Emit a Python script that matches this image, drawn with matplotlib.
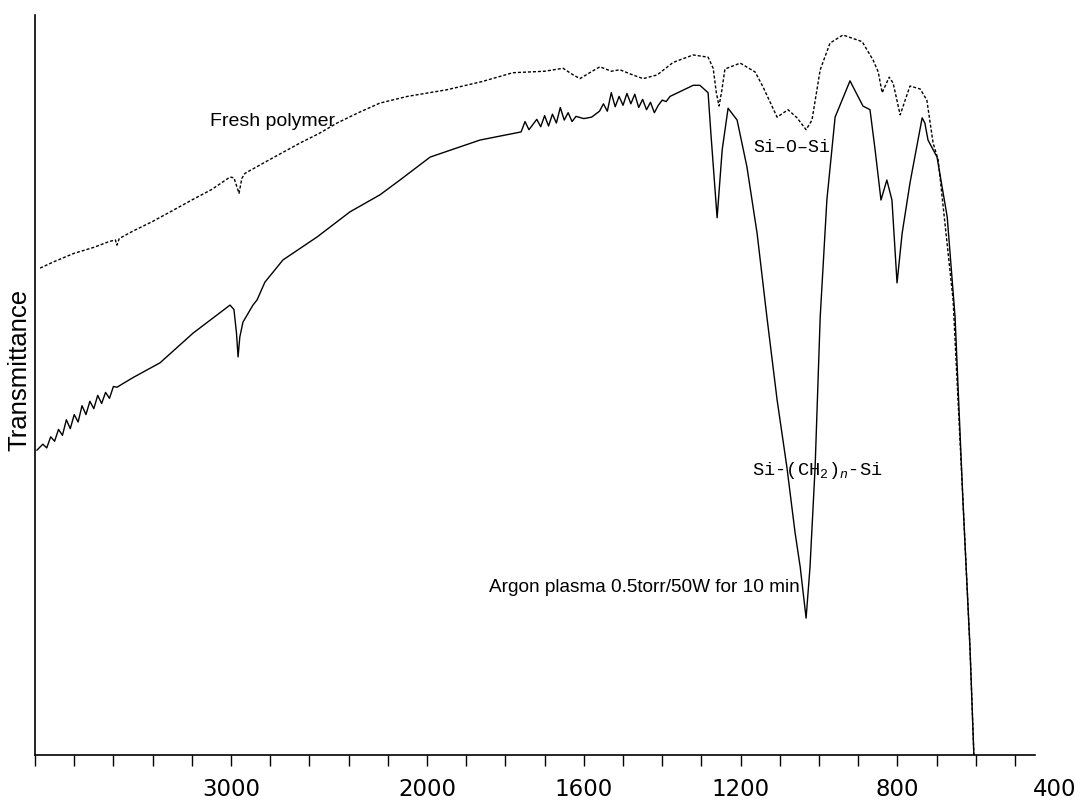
import numpy as np
import matplotlib
matplotlib.use("Agg")
import matplotlib.pyplot as plt

# ---------------- data ----------------
fresh_wn = [3974, 3900, 3800, 3700, 3620, 3590, 3582, 3570, 3500, 3400, 3296, 3200, 3100,
            3005, 2985, 2959, 2945, 2929, 2800, 2648, 2550, 2459, 2350, 2240, 2100,
            1949, 1860, 1781, 1700, 1653, 1630, 1610, 1585, 1559, 1530, 1508, 1480,
            1449, 1413, 1372, 1321, 1283, 1270, 1262, 1255, 1248, 1240, 1201, 1163,
            1143, 1107, 1079, 1056, 1033, 1018, 997, 972, 939, 890, 862, 849, 839,
            821, 811, 793, 768, 742, 725, 709, 696, 658, 633, 615, 605]
fresh_T = [65.8, 66.7, 67.8, 68.6, 69.4, 69.6, 68.9, 69.8, 70.8, 72.1, 73.6, 75.0, 76.4,
           78.1, 78.0, 75.9, 77.9, 78.6, 80.5, 82.7, 84.0, 85.4, 86.8, 88.1, 89.0,
           89.9, 91.0, 92.2, 92.4, 92.8, 92.0, 91.4, 92.2, 93.0, 92.4, 92.6, 92.0,
           91.4, 91.9, 93.6, 94.6, 94.3, 92.8, 89.5, 87.7, 89.8, 92.7, 93.5, 92.3,
           90.3, 86.2, 87.2, 86.1, 84.5, 85.8, 92.6, 96.2, 97.3, 96.4, 93.9, 92.3, 89.5,
           91.6, 90.8, 86.5, 90.4, 90.0, 88.5, 82.7, 80.4, 61.5, 34.5, 14.6, 0.0]

argon_wn = [3990, 3960, 3940, 3920, 3900, 3880, 3860, 3840, 3820, 3800, 3780, 3760,
            3740, 3720, 3700, 3680, 3660, 3640, 3620, 3600, 3582, 3500, 3362, 3194,
            3005, 2985, 2972, 2964, 2955, 2939, 2888, 2867, 2827, 2735, 2561, 2393,
            2240, 2138, 1992, 1865, 1760, 1750, 1740, 1720, 1710, 1700, 1690, 1680,
            1670, 1660, 1650, 1640, 1630, 1620, 1600, 1580, 1560, 1550, 1540, 1530,
            1520, 1510, 1500, 1490, 1480, 1470, 1460, 1450, 1440, 1430, 1420, 1410,
            1400, 1390, 1380, 1321, 1304, 1283, 1276, 1260, 1247, 1232, 1209, 1184,
            1158, 1133, 1107, 1082, 1061, 1048, 1033, 1023, 1010, 997, 980, 959, 921,
            888, 870, 857, 842, 827, 814, 801, 788, 768, 737, 730, 722, 699, 673, 653,
            633, 615, 605]
argon_T = [41.2, 42.0, 41.5, 43.0, 42.4, 44.0, 43.2, 45.3, 44.1, 46.0, 45.0, 47.2,
           46.0, 47.8, 46.8, 48.6, 47.5, 49.0, 48.2, 49.8, 49.7, 51.0, 53.0, 57.0,
           60.8, 60.2, 57.0, 53.8, 56.5, 58.5, 60.8, 61.5, 63.9, 66.9, 70.0, 73.4,
           75.7, 77.7, 80.8, 83.1, 84.2, 85.6, 84.5, 85.9, 84.9, 86.4, 85.0, 86.6,
           85.4, 87.5, 85.8, 86.8, 85.6, 86.3, 86.0, 86.2, 87.0, 88.0, 87.0, 89.5,
           87.6, 89.0, 87.8, 89.4, 88.0, 89.3, 87.5, 88.6, 87.2, 88.2, 86.8, 87.8,
           88.5, 88.3, 89.0, 90.5, 90.5, 89.5, 84.1, 72.6, 81.8, 87.4, 85.8, 79.5,
           70.5, 59.2, 48.0, 38.9, 30.0, 25.4, 18.5, 25.4, 38.9, 59.2, 75.0, 86.2, 91.1,
           87.7, 87.2, 81.8, 75.0, 77.7, 75.0, 63.8, 70.5, 77.3, 86.1, 85.4, 83.1, 80.8,
           72.7, 59.2, 34.5, 14.6, 0.0]

tick_labels = [3000, 2000, 1600, 1200, 800, 400]
minor_ticks = list(range(4000, 1999, -200)) + list(range(1900, 499, -100))

ylabel = "Transmittance"
label_fresh = "Fresh polymer"
label_argon = "Argon plasma 0.5torr/50W for 10 min"
label_sios = "Si\u2013O\u2013Si"
label_sich = "Si-(CH$_2$)$_n$-Si"

# ---------------- piecewise IR scale (x2 below 2000 cm-1) ----------------
def fwd(w):
    w = np.asarray(w, dtype=float)
    return np.where(w >= 2000, w, 2 * w - 2000)

def inv(u):
    u = np.asarray(u, dtype=float)
    return np.where(u >= 2000, u, (u + 2000) / 2)

plt.rcParams["mathtext.fontset"] = "custom"
plt.rcParams["mathtext.rm"] = "Liberation Mono"
plt.rcParams["mathtext.it"] = "Liberation Mono:italic"

fig = plt.figure(figsize=(10.82, 8.0), dpi=100)
W, H = 1082, 800
left_px, right_px, top_px, bot_px = 35, 1056.2, 15, 755
ax = fig.add_axes([left_px / W, 1 - bot_px / H, (right_px - left_px) / W, (bot_px - top_px) / H])
ax.set_xscale("function", functions=(fwd, inv))
ax.set_xlim(4000, 395)
ax.set_ylim(0, 100)

ax.plot(fresh_wn, fresh_T, color="black", lw=1.0, ls=(0, (2.2, 1.4)))
ax.plot(argon_wn, argon_T, color="black", lw=1.0)

for s in ["top", "right"]:
    ax.spines[s].set_visible(False)
ax.spines["bottom"].set_bounds(4000, 450)
ax.spines["bottom"].set_linewidth(1.2)
ax.spines["left"].set_linewidth(1.2)

ax.set_yticks([])
ax.set_xticks(tick_labels)
ax.set_xticklabels([str(t) for t in tick_labels])
ax.set_xticks(minor_ticks, minor=True)
ax.xaxis.remove_overlapping_locs = False
ax.tick_params(axis="x", which="major", length=0, pad=16.5, labelsize=16.5)
ax.tick_params(axis="x", which="minor", length=8, width=1.0, direction="out")
for lab in ax.get_xticklabels():
    lab.set_fontfamily("DejaVu Sans")

ax.set_ylabel(ylabel, fontsize=18.5, family="Liberation Sans")
ax.yaxis.set_label_coords(-0.004, 0.52)

ax.text(3107, 85.0, label_fresh, fontsize=14, family="Liberation Sans",
        ha="left", va="baseline")
ax.text(1048, 22.0, label_argon, fontsize=13.7, family="Liberation Sans",
        ha="right", va="baseline")
ax.text(1168, 81.5, label_sios, fontsize=13.2, family="Liberation Mono",
        ha="left", va="baseline")
ax.text(1171, 37.8, label_sich, fontsize=13.5, family="Liberation Mono",
        ha="left", va="baseline")

fig.savefig("out.png", dpi=100)
